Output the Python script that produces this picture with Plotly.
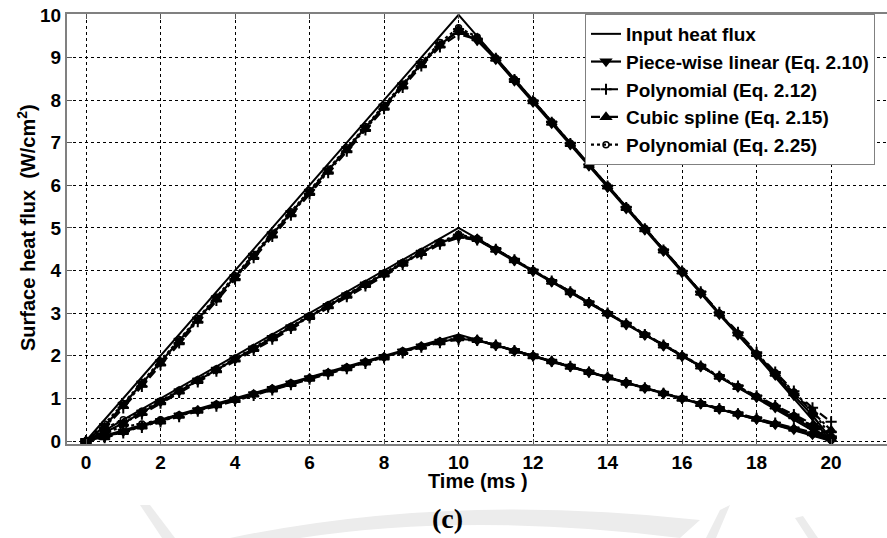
import plotly.graph_objects as go

# ---------------- data ----------------
t_input = [0, 10, 20]
input_high = [0, 10, 0]
input_mid = [0, 5, 0]
input_low = [0, 2.5, 0]

t_est = [0, 0.5, 1, 1.5, 2, 2.5, 3, 3.5, 4, 4.5, 5, 5.5, 6, 6.5, 7, 7.5, 8, 8.5, 9, 9.5, 10,
         10.5, 11, 11.5, 12, 12.5, 13, 13.5, 14, 14.5, 15, 15.5, 16, 16.5, 17, 17.5, 18, 18.5, 19, 19.5, 20]

pwl_high = [0, 0.35, 0.85, 1.35, 1.85, 2.35, 2.85, 3.35, 3.85, 4.35, 4.85, 5.35, 5.85, 6.35, 6.85, 7.35, 7.85, 8.35, 8.85, 9.3, 9.62,
            9.4, 8.95, 8.45, 7.95, 7.45, 6.95, 6.45, 5.95, 5.45, 4.95, 4.45, 3.95, 3.46, 2.97, 2.49, 2.01, 1.54, 1.07, 0.6, 0.05]
poly1_high = [0, 0.3, 0.78, 1.28, 1.79, 2.3, 2.8, 3.3, 3.8, 4.3, 4.8, 5.3, 5.8, 6.3, 6.8, 7.3, 7.8, 8.3, 8.8, 9.25, 9.55,
              9.42, 8.98, 8.48, 7.98, 7.48, 6.98, 6.48, 5.98, 5.48, 4.98, 4.48, 3.99, 3.5, 3.02, 2.55, 2.08, 1.62, 1.17, 0.78, 0.45]
cubic_high = [0, 0.32, 0.82, 1.32, 1.82, 2.32, 2.82, 3.32, 3.82, 4.32, 4.82, 5.32, 5.82, 6.32, 6.82, 7.32, 7.82, 8.32, 8.82, 9.28, 9.65,
              9.45, 8.97, 8.47, 7.97, 7.47, 6.97, 6.47, 5.97, 5.47, 4.97, 4.47, 3.98, 3.48, 2.99, 2.52, 2.04, 1.58, 1.12, 0.68, 0.25]
poly2_high = [0, 0.4, 0.88, 1.38, 1.88, 2.38, 2.88, 3.38, 3.88, 4.38, 4.88, 5.38, 5.88, 6.38, 6.88, 7.38, 7.88, 8.38, 8.88, 9.35, 9.7,
              9.48, 8.99, 8.49, 7.99, 7.49, 6.99, 6.49, 5.99, 5.49, 4.99, 4.49, 3.99, 3.49, 3.0, 2.52, 2.05, 1.6, 1.15, 0.72, 0.1]

pwl_mid = [0, 0.2, 0.42, 0.67, 0.92, 1.17, 1.42, 1.67, 1.92, 2.17, 2.42, 2.67, 2.92, 3.17, 3.42, 3.67, 3.92, 4.17, 4.42, 4.65, 4.8,
           4.72, 4.48, 4.23, 3.98, 3.73, 3.48, 3.23, 2.98, 2.73, 2.48, 2.23, 1.98, 1.74, 1.5, 1.26, 1.02, 0.78, 0.55, 0.3, 0.03]
poly1_mid = [0, 0.15, 0.38, 0.63, 0.89, 1.14, 1.39, 1.64, 1.89, 2.14, 2.39, 2.64, 2.89, 3.14, 3.39, 3.64, 3.89, 4.14, 4.39, 4.62, 4.77,
             4.72, 4.5, 4.25, 4.0, 3.75, 3.5, 3.25, 3.0, 2.75, 2.5, 2.25, 2.0, 1.76, 1.52, 1.29, 1.06, 0.83, 0.62, 0.4, 0.22]
cubic_mid = [0, 0.18, 0.41, 0.66, 0.91, 1.16, 1.41, 1.66, 1.91, 2.16, 2.41, 2.66, 2.91, 3.16, 3.41, 3.66, 3.91, 4.16, 4.41, 4.64, 4.82,
             4.74, 4.49, 4.24, 3.99, 3.74, 3.49, 3.24, 2.99, 2.74, 2.49, 2.24, 1.99, 1.75, 1.51, 1.27, 1.04, 0.81, 0.58, 0.36, 0.12]
poly2_mid = [0, 0.3, 0.5, 0.7, 0.94, 1.19, 1.44, 1.69, 1.94, 2.19, 2.44, 2.69, 2.94, 3.19, 3.44, 3.69, 3.94, 4.19, 4.44, 4.67, 4.85,
             4.75, 4.5, 4.25, 4.0, 3.75, 3.5, 3.25, 3.0, 2.75, 2.5, 2.25, 2.0, 1.76, 1.52, 1.28, 1.05, 0.82, 0.59, 0.35, 0.05]

pwl_low = [0, 0.1, 0.22, 0.35, 0.47, 0.6, 0.72, 0.85, 0.97, 1.1, 1.22, 1.35, 1.47, 1.6, 1.72, 1.85, 1.97, 2.1, 2.22, 2.33, 2.4,
           2.36, 2.24, 2.11, 1.99, 1.86, 1.74, 1.61, 1.49, 1.36, 1.24, 1.11, 0.99, 0.87, 0.75, 0.63, 0.51, 0.39, 0.27, 0.15, 0.02]
poly1_low = [0, 0.08, 0.19, 0.32, 0.45, 0.57, 0.7, 0.82, 0.95, 1.07, 1.2, 1.32, 1.45, 1.57, 1.7, 1.82, 1.95, 2.07, 2.2, 2.31, 2.38,
             2.36, 2.25, 2.12, 2.0, 1.87, 1.75, 1.62, 1.5, 1.37, 1.25, 1.12, 1.0, 0.88, 0.76, 0.64, 0.53, 0.42, 0.31, 0.2, 0.11]
cubic_low = [0, 0.09, 0.21, 0.34, 0.46, 0.59, 0.71, 0.84, 0.96, 1.09, 1.21, 1.34, 1.46, 1.59, 1.71, 1.84, 1.96, 2.09, 2.21, 2.32, 2.41,
             2.37, 2.25, 2.12, 1.99, 1.87, 1.74, 1.62, 1.49, 1.37, 1.24, 1.12, 0.99, 0.87, 0.75, 0.64, 0.52, 0.4, 0.29, 0.18, 0.06]
poly2_low = [0, 0.2, 0.33, 0.4, 0.5, 0.61, 0.73, 0.86, 0.98, 1.11, 1.23, 1.36, 1.48, 1.61, 1.73, 1.86, 1.98, 2.11, 2.23, 2.34, 2.42,
             2.37, 2.25, 2.12, 2.0, 1.87, 1.75, 1.62, 1.5, 1.37, 1.25, 1.12, 1.0, 0.88, 0.76, 0.64, 0.52, 0.4, 0.28, 0.16, 0.02]

series_names = ["Input heat flux", "Piece-wise linear (Eq. 2.10)", "Polynomial (Eq. 2.12)",
                "Cubic spline (Eq. 2.15)", "Polynomial (Eq. 2.25)"]
x_ticks = [0, 2, 4, 6, 8, 10, 12, 14, 16, 18, 20]
y_ticks = [0, 1, 2, 3, 4, 5, 6, 7, 8, 9, 10]

# ---------------- figure ----------------
FONT = "Liberation Sans, Arial, sans-serif"
fig = go.Figure()

styles = [
    dict(dash="solid", symbol=None),
    dict(dash="solid", symbol="triangle-down"),
    dict(dash="dash", symbol="cross-thin"),
    dict(dash="dashdot", symbol="triangle-up"),
    dict(dash="dot", symbol="circle-open"),
]

inputs = [input_high, input_mid, input_low]
estimates = [
    [pwl_high, pwl_mid, pwl_low],
    [poly1_high, poly1_mid, poly1_low],
    [cubic_high, cubic_mid, cubic_low],
    [poly2_high, poly2_mid, poly2_low],
]

for k, yv in enumerate(inputs):
    fig.add_trace(go.Scatter(x=t_input, y=yv, mode="lines", name=series_names[0],
                             legendgroup="in", showlegend=(k == 0),
                             line=dict(color="black", width=2)))

for m, group in enumerate(estimates):
    st = styles[m + 1]
    for k, yv in enumerate(group):
        marker = dict(symbol=st["symbol"], color="black", size=9,
                      line=dict(color="black", width=1.5))
        if st["symbol"] == "circle-open":
            marker["size"] = 6
        if st["symbol"] == "cross-thin":
            marker["size"] = 8
            marker["line"]["width"] = 2
        fig.add_trace(go.Scatter(x=t_est, y=yv, mode="lines+markers", name=series_names[m + 1],
                                 legendgroup="g%d" % m, showlegend=(k == 0),
                                 line=dict(color="black", width=2.2, dash=st["dash"]),
                                 marker=marker))

# full-page figure (body margin removed by post_script below)
W, H = 887, 538
PL, PT, PR, PB = 67, 14, 887, 444          # plot area in page pixels
L, T, R, B = PL, PT, W - PR, H - PB
pw, ph = PR - PL, PB - PT


def px(x):
    return (x - PL) / pw


def py(y):
    return (PB - y) / ph


axis_common = dict(
    showgrid=True, gridcolor="black", gridwidth=1, griddash="3px,3px",
    zeroline=False, showline=True, linecolor="#808080", linewidth=2,
    ticks="inside", ticklen=5, tickcolor="#555555", tickwidth=1,
    ticklabeloverflow="allow",
    tickfont=dict(family=FONT, size=19, color="black", weight="bold"),
)

fig.update_xaxes(range=[-0.51, 21.5], tickvals=x_ticks, mirror="ticks", **axis_common)
fig.update_yaxes(range=[-0.07, 10.02], tickvals=y_ticks, mirror=False, **axis_common)

# watermark-like faint shapes at the bottom
wm = "#ececec"
shapes = []
shapes.append(dict(type="path", xref="paper", yref="paper", layer="below",
                   path="M %f %f Q %f %f %f %f L %f %f Q %f %f %f %f Z" % (
                       px(230), py(538), px(450), py(492), px(700), py(520),
                       px(680), py(538), px(470), py(512), px(300), py(538)),
                   fillcolor=wm, line=dict(width=0)))
shapes.append(dict(type="path", xref="paper", yref="paper", layer="below",
                   path="M %f %f L %f %f L %f %f L %f %f Z" % (
                       px(140), py(505), px(150), py(505), px(175), py(538), px(162), py(538)),
                   fillcolor=wm, line=dict(width=0)))
shapes.append(dict(type="path", xref="paper", yref="paper", layer="below",
                   path="M %f %f L %f %f L %f %f L %f %f Z" % (
                       px(720), py(510), px(730), py(505), px(716), py(538), px(706), py(538)),
                   fillcolor=wm, line=dict(width=0)))
shapes.append(dict(type="path", xref="paper", yref="paper", layer="below",
                   path="M %f %f L %f %f L %f %f L %f %f Z" % (
                       px(795), py(518), px(803), py(516), px(818), py(538), px(808), py(538)),
                   fillcolor=wm, line=dict(width=0)))

annotations = [
    dict(text="Time (ms )", xref="paper", yref="paper", x=px(478), y=py(481),
         xanchor="center", yanchor="middle", showarrow=False,
         font=dict(family=FONT, size=20, color="black", weight="bold")),
    dict(text="Surface heat flux \u00a0(W/cm<sup>2</sup>)", xref="paper", yref="paper",
         x=px(27), y=py(228), xanchor="center", yanchor="middle", textangle=-90,
         showarrow=False, font=dict(family=FONT, size=20, color="black", weight="bold")),
    dict(text="(c)", xref="paper", yref="paper", x=px(447), y=py(518),
         xanchor="center", yanchor="middle", showarrow=False,
         font=dict(family="Liberation Serif, Times New Roman, serif", size=28,
                   color="black", weight="bold")),
]

fig.update_layout(
    width=W, height=H,
    margin=dict(l=L, r=R, t=T, b=B, autoexpand=False),
    paper_bgcolor="white", plot_bgcolor="white",
    showlegend=True,
    legend=dict(x=px(585), y=1, xanchor="left", yanchor="top",
                bgcolor="white", bordercolor="#808080", borderwidth=1,
                font=dict(family=FONT, size=19, color="black", weight="bold"),
                itemwidth=30, tracegroupgap=0),
    shapes=shapes, annotations=annotations,
)

fig.write_html("out.html", config={"displayModeBar": False},
               post_script="document.body.style.margin='0px';document.body.style.overflow='hidden';")
